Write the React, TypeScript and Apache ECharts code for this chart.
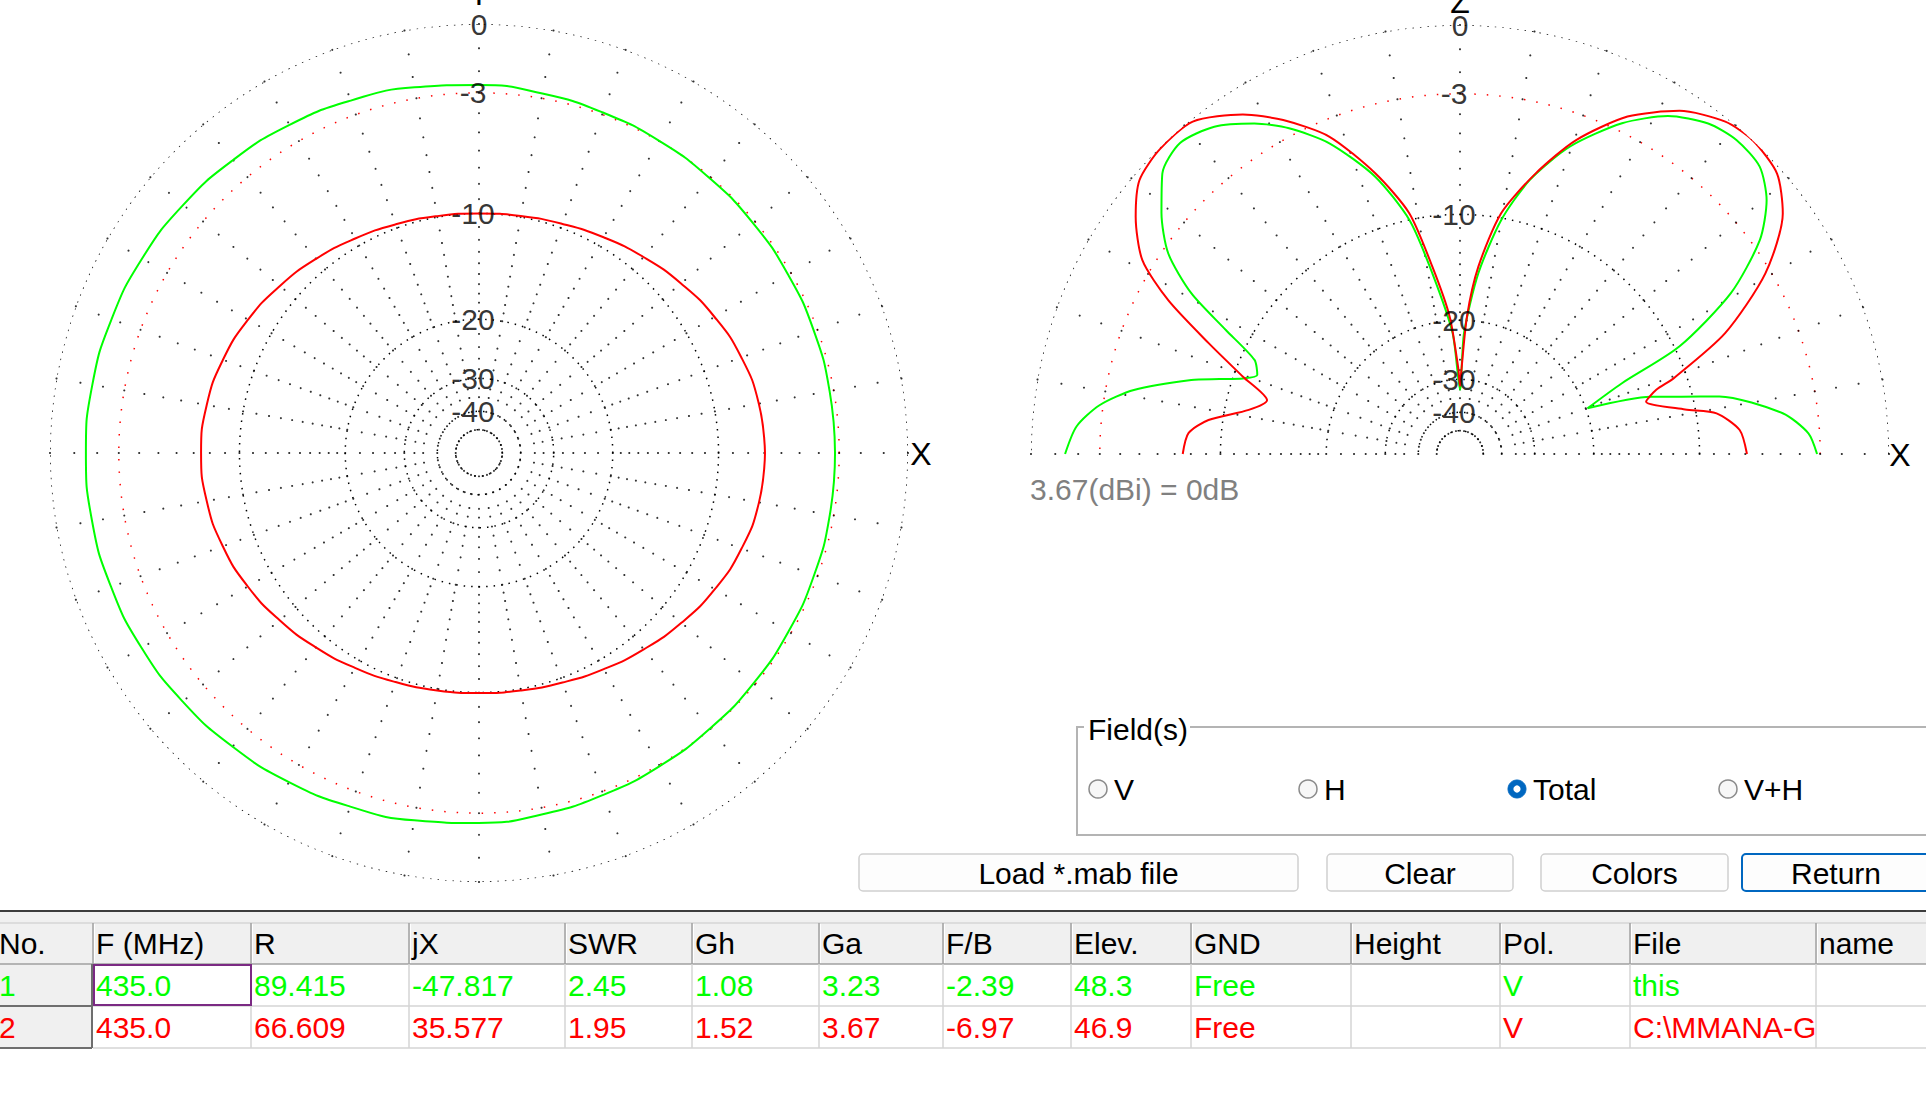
import React, { useEffect, useRef } from "react";
import * as echarts from "echarts";

// ---------------- DATA ----------------
// Horizontal (azimuth) pattern, dB relative to 3.67 dBi, read every 10 degrees
const hAngles = [0, 10, 20, 30, 40, 50, 60, 70, 80, 90, 100, 110, 120, 130, 140, 150, 160, 170, 180, 190, 200, 210, 220, 230, 240, 250, 260, 270, 280, 290, 300, 310, 320, 330, 340, 350];
const hGreenDb = [-3.2, -3.2, -3.18, -3.16, -3.12, -3.07, -2.99, -2.9, -2.77, -2.63, -2.48, -2.31, -2.13, -1.97, -1.81, -1.68, -1.59, -1.52, -1.5, -1.51, -1.57, -1.65, -1.78, -1.93, -2.08, -2.25, -2.4, -2.54, -2.69, -2.83, -2.94, -3.03, -3.09, -3.14, -3.17, -3.19];
const hRedDb = [-6.96, -7.07, -7.37, -7.82, -8.35, -8.87, -9.33, -9.7, -9.92, -10.0, -9.93, -9.73, -9.43, -9.03, -8.6, -8.16, -7.79, -7.54, -7.45, -7.54, -7.78, -8.14, -8.58, -9.01, -9.4, -9.7, -9.89, -9.96, -9.89, -9.67, -9.3, -8.84, -8.32, -7.8, -7.36, -7.06];

// Vertical (elevation) pattern
const vRedAngles = [0, 4.9, 9.0, 11.2, 15.7, 18.1, 19.5, 24.5, 30.6, 36.7, 41.5, 46.9, 51.4, 57.4, 63.6, 69.7, 74.9, 80.3, 84.4, 87.1, 89.2, 90, 91.2, 94.3, 98.4, 101.9, 106.8, 112.4, 117.9, 122.6, 128.8, 134.6, 139.5, 143.8, 148.6, 152.2, 156.2, 160.4, 164.4, 168.2, 172.3, 175.6, 180];
const vRedDb = [-6.9, -7.28, -8.61, -10.74, -13.68, -12.55, -10.96, -6.64, -3.26, -1.09, -0.23, 0, -0.15, -0.89, -2.23, -4.26, -6.68, -9.67, -14.14, -19.52, -28.66, -31.6, -27.5, -19.5, -14.04, -9.54, -6.53, -3.82, -2.18, -1.07, -0.1, -0.05, -0.3, -1.12, -2.44, -4.51, -7.65, -10.67, -13.07, -11.79, -9.01, -7.8, -7.49];
const vGreenAngles = [0, 3.4, 7.2, 12.5, 14.5, 16.7, 19.7, 23.6, 26.1, 30.7, 35.5, 39.6, 43.8, 48.6, 53.1, 58.4, 63.9, 70.3, 75.7, 80.0, 84.2, 88.1, 90, 93.5, 98.7, 102.2, 107.0, 112.8, 117.7, 121.9, 126.9, 132.0, 136.7, 141.1, 145.5, 149.1, 152.1, 155.4, 158.7, 160.8, 162.7, 164.6, 168.9, 172.3, 175.9, 180];
const vGreenDb = [-3.15, -3.54, -4.75, -8.22, -10.78, -13.18, -19.79, -15.22, -9.67, -5.3, -2.62, -1.29, -0.56, -0.43, -0.64, -1.34, -2.62, -4.68, -7.15, -10.14, -14.75, -21.74, -32.6, -21.71, -14.64, -10.01, -6.72, -4.14, -2.64, -1.67, -0.81, -0.43, -0.82, -1.92, -3.3, -5.4, -8.27, -11.0, -11.65, -10.71, -9.13, -7.4, -4.38, -2.83, -1.88, -1.42];

// Grid
const ringLevels = [0, -10, -20, -30, -40, -50];
const halfPowerLevel = -3;
const ringLabelLevels = [0, -3, -10, -20, -30, -40];
const ringLabelTexts = ["0", "-3", "-10", "-20", "-30", "-40"];
const spokeLevels = [0, -1, -2, -3, -4, -5, -6, -7, -8, -9, -10, -11, -12, -13, -14, -15, -16, -17, -18, -19, -20, -22, -24, -26, -28, -30, -32.5, -35, -40, -50];
const spokeStepDeg = 10;

// Texts
const gainRefText = "3.67(dBi) = 0dB";
const fieldTitle = "Field(s)";
const fieldOptions = ["V", "H", "Total", "V+H"];
const selectedField = "Total";
const buttonLabels = ["Load *.mab file", "Clear", "Colors", "Return"];
const tableHeaders = ["No.", "F (MHz)", "R", "jX", "SWR", "Gh", "Ga", "F/B", "Elev.", "GND", "Height", "Pol.", "File", "name"];
const tableRow1 = ["1", "435.0", "89.415", "-47.817", "2.45", "1.08", "3.23", "-2.39", "48.3", "Free", "", "V", "this", ""];
const tableRow2 = ["2", "435.0", "66.609", "35.577", "1.95", "1.52", "3.67", "-6.97", "46.9", "Free", "", "V", "C:\\MMANA-G", ""];

// ---------------- LAYOUT / STYLE ----------------
const FONT = '"Liberation Sans", Arial, sans-serif';
const GREEN = "#00ff00";
const RED = "#ff0000";
const H_CENTER = [479, 453];
const V_CENTER = [1460, 454];
const R_PX = 429;

// ARRL log scale: radius shrinks by 0.89 every 2 dB
const toR = (db: number) => Math.pow(0.89, -db / 2);

function ringSeries(polarIndex: number, db: number, maxAngle: number, color: string, dash: number[]) {
  const data: number[][] = [];
  for (let a = 0; a <= maxAngle; a += 1) data.push([toR(db), a]);
  return {
    type: "line", coordinateSystem: "polar", polarIndex, data, symbol: "none", silent: true, z: 1,
    lineStyle: { color, width: 1.5, type: dash, cap: "butt" },
  };
}

function spokeSeries(polarIndex: number, maxAngle: number) {
  const data: number[][] = [];
  for (let a = 0; a <= maxAngle && a < 360; a += spokeStepDeg) {
    for (const db of spokeLevels) data.push([toR(db), a]);
  }
  return {
    type: "scatter", coordinateSystem: "polar", polarIndex, data, symbol: "circle", symbolSize: 2.1,
    itemStyle: { color: "#000" }, silent: true, z: 1,
  };
}

function labelSeries(polarIndex: number) {
  return {
    type: "scatter", coordinateSystem: "polar", polarIndex, symbolSize: 0, silent: true, z: 4,
    data: ringLabelLevels.map((db, i) => ({
      value: [toR(db), 90], name: ringLabelTexts[i],
      label: { offset: [ringLabelTexts[i].startsWith("-") ? -6 : 0, 0] },
    })),
    label: { show: true, position: "inside", formatter: "{b}", color: "#000", fontSize: 30, fontFamily: FONT },
  };
}

function curve(polarIndex: number, angles: number[], dbs: number[], color: string, smooth: number, close: boolean) {
  const data = angles.map((a, i) => [toR(dbs[i]), a]);
  if (close) data.push([toR(dbs[0]), 360]);
  return {
    type: "line", coordinateSystem: "polar", polarIndex, data, symbol: "none", smooth, silent: true, z: 3,
    lineStyle: { color, width: 2 },
  };
}

function txt(x: number, y: number, text: string, opts: any = {}) {
  return {
    type: "text", x, y, silent: true, z: opts.z ?? 10,
    style: {
      text, fill: opts.fill ?? "#000", fontSize: opts.fontSize ?? 30, fontFamily: FONT,
      align: opts.align ?? "left", verticalAlign: "middle",
      textAlign: opts.align ?? "left", textVerticalAlign: "middle",
    },
  };
}
function line(x1: number, y1: number, x2: number, y2: number, stroke: string, lineWidth = 1) {
  return { type: "line", silent: true, z: 9, shape: { x1, y1, x2, y2 }, style: { stroke, lineWidth } };
}
function rect(x: number, y: number, width: number, height: number, style: any, r = 0, z = 8) {
  return { type: "rect", silent: true, z, shape: { x, y, width, height, r }, style };
}

function uiGraphics() {
  const els: any[] = [];
  // axis letters
  els.push(txt(921, 454, "X", { align: "center", fontSize: 32 }));
  els.push(txt(479, -6, "Y", { align: "center", fontSize: 32 }));
  els.push(txt(1900, 455, "X", { align: "center", fontSize: 32 }));
  els.push(txt(1460, 2, "Z", { align: "center", fontSize: 32 }));
  els.push(txt(1030, 489, gainRefText, { fill: "#808080", fontSize: 30 }));

  // Field(s) group box
  els.push(rect(1077, 727, 900, 108, { fill: "none", stroke: "#b4b4b4", lineWidth: 2 }));
  els.push(rect(1084, 714, 106, 28, { fill: "#fff" }, 0, 9));
  els.push(txt(1088, 729, fieldTitle, { fontSize: 30 }));
  const radioX = [1098, 1308, 1517, 1728];
  fieldOptions.forEach((name, i) => {
    const sel = name === selectedField;
    els.push({
      type: "circle", silent: true, z: 9, shape: { cx: radioX[i], cy: 789, r: 9 },
      style: sel ? { fill: "#0067c0", stroke: "#0067c0", lineWidth: 1 } : { fill: "#f7f7f7", stroke: "#8a8a8a", lineWidth: 1.5 },
    });
    if (sel) els.push({ type: "circle", silent: true, z: 10, shape: { cx: radioX[i], cy: 789, r: 3.6 }, style: { fill: "#fff" } });
    els.push(txt(radioX[i] + 16, 789, name, { fontSize: 30 }));
  });

  // buttons
  const bx = [[859, 1298], [1327, 1513], [1541, 1728], [1742, 1940]];
  buttonLabels.forEach((name, i) => {
    const [x0, x1] = bx[i];
    const focused = i === 3;
    els.push(rect(x0, 854, x1 - x0, 37, { fill: "#fdfdfd", stroke: focused ? "#0067c0" : "#d0d0d0", lineWidth: focused ? 2 : 1.5 }, 4));
    const cx = i === 3 ? 1836 : (x0 + x1) / 2;
    els.push(txt(cx, 873, name, { align: "center", fontSize: 30 }));
  });

  // table
  const colEdges = [-10, 93, 251, 409, 565, 692, 819, 943, 1071, 1191, 1351, 1500, 1630, 1816, 1940];
  els.push(rect(0, 911, 1926, 12, { fill: "#f0f0f0" }));
  els.push(line(0, 911, 1926, 911, "#3c3c3c", 2));
  els.push(rect(0, 923, 1926, 41, { fill: "#f0f0f0" }));
  els.push(line(0, 923, 1926, 923, "#c8c8c8", 1));
  els.push(line(0, 964, 1926, 964, "#a0a0a0", 1.5));
  for (let c = 1; c < colEdges.length - 1; c++) {
    els.push(line(colEdges[c], 923, colEdges[c], 964, "#a0a0a0", 1.5));
    els.push(line(colEdges[c] + 1.5, 924, colEdges[c] + 1.5, 963, "#ffffff", 1));
  }
  tableHeaders.forEach((h, c) => els.push(txt(Math.max(colEdges[c] + 3, -1), 943, h, { fontSize: 30 })));
  const rows = [tableRow1, tableRow2];
  const rowColors = [GREEN, RED];
  rows.forEach((row, r) => {
    const y0 = 964 + r * 42;
    const y1 = y0 + 42;
    els.push(rect(-10, y0, 102, 42, { fill: "#f0f0f0" }));
    for (let c = 2; c < colEdges.length - 1; c++) els.push(line(colEdges[c], y0, colEdges[c], y1, "#d4d4d4", 1.5));
    els.push(line(93, y1, 1926, y1, "#d4d4d4", 1.5));
    els.push(line(0, y1, 92, y1, "#6e6e6e", 2));
    els.push(line(92, y0, 92, y1, "#6e6e6e", 2));
    row.forEach((v, c) => {
      if (v) els.push(txt(Math.max(colEdges[c] + 3, -1), y0 + 21, v, { fill: rowColors[r], fontSize: 30 }));
    });
  });
  els.push(rect(94, 965, 157, 40, { fill: "none", stroke: "#7b2a83", lineWidth: 2 }, 0, 11));
  return els;
}

function buildOption(): any {
  const series: any[] = [];
  // left (horizontal) plot grid
  series.push(spokeSeries(0, 350));
  ringLevels.forEach((db) => series.push(ringSeries(0, db, 360, "#000", [1.5, 6])));
  series.push(ringSeries(0, halfPowerLevel, 360, RED, [1.5, 11]));
  // right (vertical) plot grid
  series.push(spokeSeries(1, 180));
  ringLevels.forEach((db) => series.push(ringSeries(1, db, 180, "#000", [1.5, 6])));
  series.push(ringSeries(1, halfPowerLevel, 180, RED, [1.5, 11]));
  // patterns
  series.push(curve(0, hAngles, hGreenDb, GREEN, 0.5, true));
  series.push(curve(0, hAngles, hRedDb, RED, 0.5, true));
  series.push(curve(1, vGreenAngles, vGreenDb, GREEN, 0.25, false));
  series.push(curve(1, vRedAngles, vRedDb, RED, 0.25, false));
  series.push(labelSeries(0));
  series.push(labelSeries(1));

  const angleAxisBase = { type: "value", min: 0, max: 360, startAngle: 0, clockwise: false, show: false };
  const radiusAxisBase = { type: "value", min: 0, max: 1, show: false };
  return {
    animation: false,
    backgroundColor: "#ffffff",
    polar: [
      { center: H_CENTER, radius: [0, R_PX] },
      { center: V_CENTER, radius: [0, R_PX] },
    ],
    angleAxis: [{ ...angleAxisBase, polarIndex: 0 }, { ...angleAxisBase, polarIndex: 1 }],
    radiusAxis: [{ ...radiusAxisBase, polarIndex: 0 }, { ...radiusAxisBase, polarIndex: 1 }],
    series,
    graphic: { elements: uiGraphics() },
  };
}

export default function App() {
  const ref = useRef<HTMLDivElement>(null);
  useEffect(() => {
    if (!ref.current) return;
    const chart = echarts.init(ref.current, null, { renderer: "svg" });
    chart.setOption(buildOption());
    return () => chart.dispose();
  }, []);
  return (
    <div
      ref={ref}
      style={{ position: "fixed", left: 0, top: 0, width: 1926, height: 1093, background: "#fff" }}
    />
  );
}
